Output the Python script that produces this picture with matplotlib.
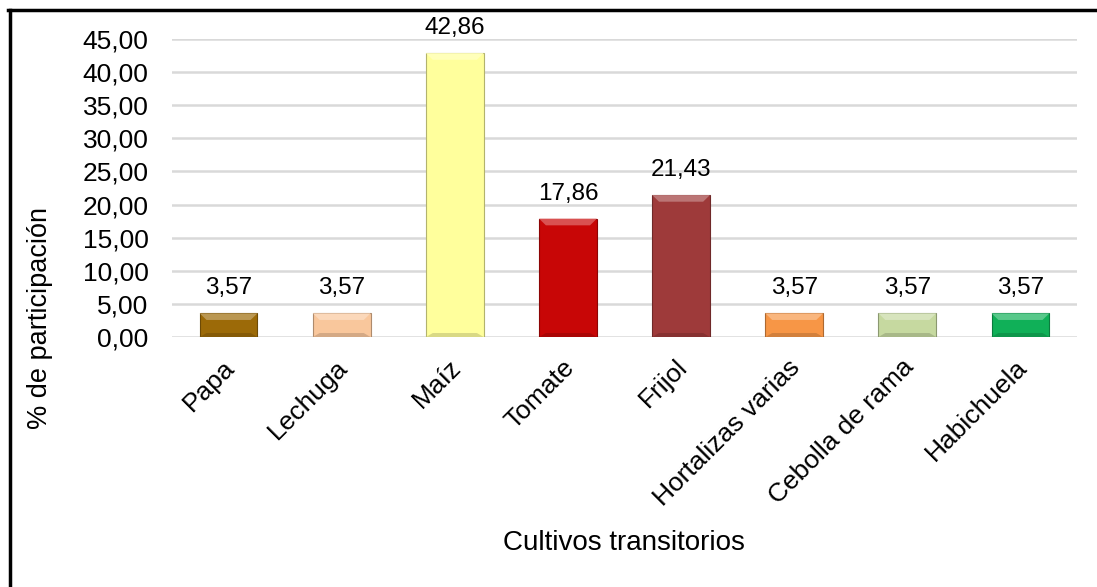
import matplotlib
matplotlib.use('Agg')
import matplotlib.pyplot as plt
import matplotlib.transforms as mtransforms
from matplotlib.lines import Line2D
from matplotlib.patches import Polygon
import matplotlib.colors as mcolors

plt.rcParams['font.family'] = ['Liberation Sans', 'DejaVu Sans']

cultivos = ['Papa', 'Lechuga', 'Maíz', 'Tomate', 'Frijol',
            'Hortalizas varias', 'Cebolla de rama', 'Habichuela']
participacion = [3.57, 3.57, 42.86, 17.86, 21.43, 3.57, 3.57, 3.57]
colores = ['#9c6a08', '#f9c79c', '#ffff9c', '#c80606', '#9e3a3a',
           '#f79646', '#c6d9a0', '#10b058']
yticks = [0, 5, 10, 15, 20, 25, 30, 35, 40, 45]


def fmt(v):
    return f'{v:.2f}'.replace('.', ',')


def shade(c, f):
    r, g, b = mcolors.to_rgb(c)
    if f < 1:
        return (r * f, g * f, b * f)
    return (r + (1 - r) * (f - 1), g + (1 - g) * (f - 1), b + (1 - b) * (f - 1))


fig = plt.figure(figsize=(10.97, 5.87), dpi=100)
ax = fig.add_axes([0.1568, 0.4259, 0.8250, 0.5077])

x = range(len(cultivos))
bars = ax.bar(x, participacion, width=0.51, color=colores,
              edgecolor=[shade(c, 0.7) for c in colores], linewidth=0.8, zorder=3)

# simple bevel: lighter top strip, darker bottom strip
bev = 0.06
for b, c in zip(bars, colores):
    x0, w, h = b.get_x(), b.get_width(), b.get_height()
    dy = min(1.0, h * 0.3)
    ax.add_patch(Polygon([(x0, h), (x0 + w, h), (x0 + w - bev, h - dy), (x0 + bev, h - dy)],
                         closed=True, facecolor=shade(c, 1.3), edgecolor='none', zorder=4))
    ax.add_patch(Polygon([(x0, 0), (x0 + w, 0), (x0 + w - bev, dy * 0.6), (x0 + bev, dy * 0.6)],
                         closed=True, facecolor=shade(c, 0.85), edgecolor='none', zorder=4))

for xi, v in zip(x, participacion):
    ax.annotate(fmt(v), (xi, v), xytext=(0, 10), textcoords='offset points',
                ha='center', va='bottom', fontsize=17.5)

ax.set_ylim(0, 45)
ax.set_xlim(-0.5, len(cultivos) - 0.5)
ax.set_yticks(yticks)
ax.set_yticklabels([fmt(t) for t in yticks], fontsize=19)
ax.set_xticks(list(x))
ax.set_xticklabels(cultivos, rotation=45, ha='right', rotation_mode='anchor', fontsize=19)
ax.tick_params(axis='both', length=0)
ax.tick_params(axis='y', pad=17)
ax.tick_params(axis='x', pad=13)
shift = mtransforms.ScaledTranslation(-0.06, 0, fig.dpi_scale_trans)
for lab in ax.get_xticklabels():
    lab.set_transform(lab.get_transform() + shift)
ax.yaxis.grid(True, color='#d9d9d9', linewidth=1.8, zorder=0)
for s in ax.spines.values():
    s.set_visible(False)

fig.text(40 / 1097, 1 - 318 / 587, '% de participación', rotation=90,
         ha='center', va='center', fontsize=19.5)
fig.text(624 / 1097, 1 - 543 / 587, 'Cultivos transitorios',
         ha='center', va='center', fontsize=20)

# outer chart frame (left and top edges)
fig.add_artist(Line2D([9.5 / 1097, 9.5 / 1097], [0, 1 - 10 / 587], color='black', linewidth=2.5))
fig.add_artist(Line2D([8 / 1097, 1], [1 - 10 / 587, 1 - 10 / 587], color='black', linewidth=2.5))

plt.savefig('out.png', dpi=100)
